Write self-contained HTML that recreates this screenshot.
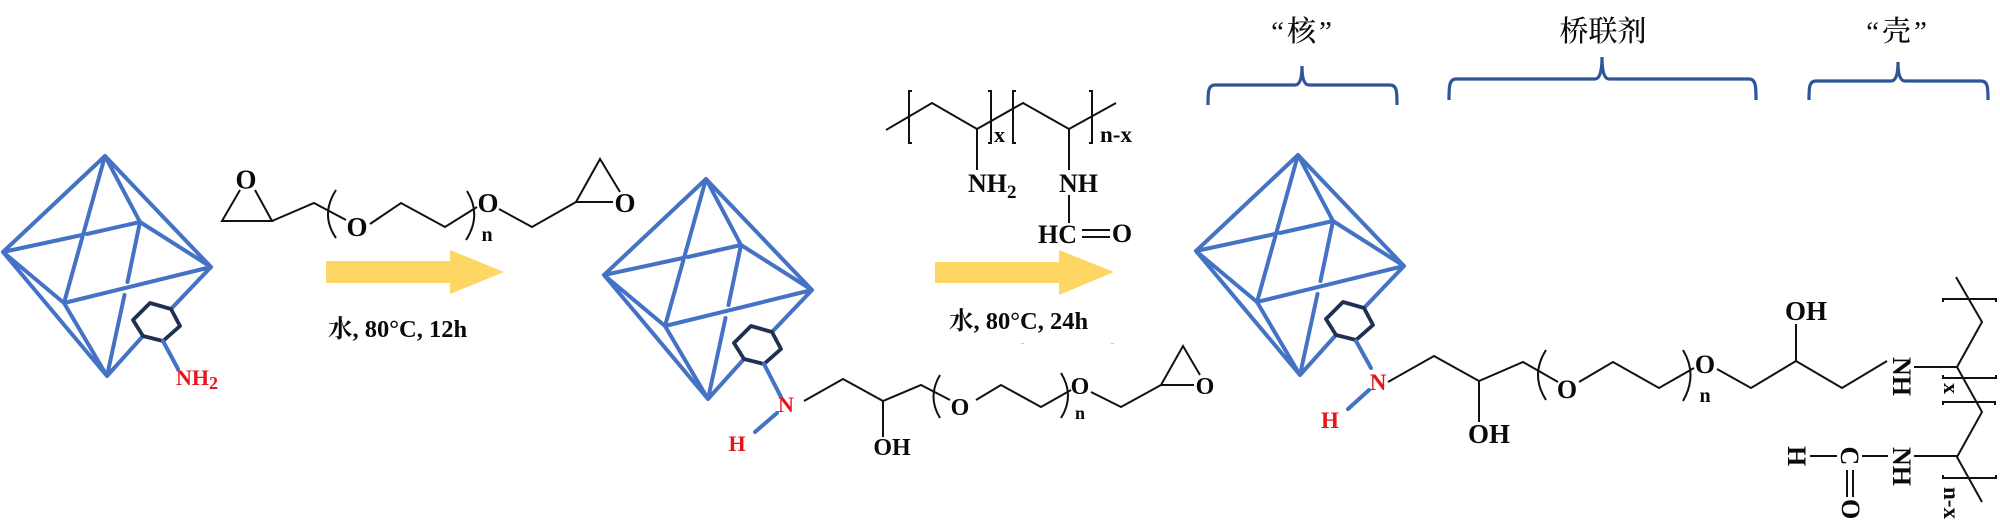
<!DOCTYPE html>
<html lang="zh">
<head>
<meta charset="utf-8">
<title>Core-shell synthesis scheme</title>
<style>
html,body{margin:0;padding:0;background:#fff;width:2000px;height:524px;overflow:hidden}
svg{display:block;filter:blur(.35px)}
.b{font-family:"Liberation Serif","Noto Serif CJK SC",serif;font-weight:bold;fill:#0a0a0a}
.m{text-anchor:middle}
.r{fill:#e8141c}
.c{font-family:"Liberation Serif","Noto Serif CJK SC",serif;font-size:29px;font-weight:500;fill:#0a0a0a;text-anchor:middle}
.z{font-family:"Noto Serif CJK SC",serif;font-weight:700}
.k{fill:none;stroke:#111;stroke-width:2;stroke-linejoin:miter}
.s{fill:none;stroke:#2f5597;stroke-width:3.2}
.o{fill:none;stroke:#4472c4;stroke-width:4;stroke-linecap:round}
.h{fill:none;stroke:#1f3050;stroke-width:3.8;stroke-linejoin:round}
</style>
</head>
<body>
<svg xmlns="http://www.w3.org/2000/svg" width="2000" height="524" viewBox="0 0 2000 524">
<rect width="2000" height="524" fill="#fff"/>
<defs>
<g id="oct">
<path class="o" d="M105 156L3 252M105 156L64 303M105 156L140 222M105 156L211 267M3 252L82 235M87 234L140 222M3 252L64 303M3 252L107 376M64 303L107 376M64 303L211 267M140 222L211 267M140 222L127.500 282M124.500 295L107 376M211 267L171 309M107 376L143 336"/>
<path class="h" d="M150 303L171 309L180 326L163 341L143 336L133 320Z"/>
</g>
</defs>

<!-- Octahedron 1 -->
<use href="#oct"/>
<path class="o" d="M163 341L178 369"/>
<text class="b r" x="176" y="385" font-size="22">NH<tspan font-size="18" dy="4">2</tspan></text>

<!-- PEG diepoxide -->
<path class="k" d="M240 190L222 221H272L255 190M272 221L314 203L346 220M370 224L401 203L445 227L477 207M499 209L532 227L576 202H613M576 202L600 159L620 192"/>
<path class="k" d="M336 190Q320 215 336 238M467 191Q482 215 466 240"/>
<text class="b m" x="246" y="188.500" font-size="27">O</text>
<text class="b m" x="357" y="236" font-size="27">O</text>
<text class="b m" x="488" y="212" font-size="27">O</text>
<text class="b m" x="625" y="212" font-size="27">O</text>
<text class="b m" x="487" y="241" font-size="20">n</text>

<!-- Arrow 1 -->
<path fill="#fdd663" d="M326 261H450V250L504 272L450 294V283H326Z"/>
<text class="b" x="328" y="337" font-size="24.500"><tspan class="z">水</tspan>, 80°C, 12h</text>

<!-- Octahedron 2 -->
<use href="#oct" transform="translate(601,23)"/>
<path class="o" d="M764 364L781 397M777 413L755 432"/>
<text class="b m r" x="786" y="412" font-size="22">N</text>
<text class="b m r" x="737" y="451" font-size="22">H</text>
<path class="k" d="M804 401L843 379L883 401L921 385L950 400M976 400L1001 385L1041 407L1071 390M1091 392L1121 407L1161 385H1194M1161 385L1183 346L1200 375M883 401V437"/>
<path class="k" d="M940 375Q927 397 940 418M1061 373Q1075 396 1061 418"/>
<text class="b m" x="960" y="415" font-size="24">O</text>
<text class="b m" x="1080" y="394" font-size="24">O</text>
<text class="b m" x="1205" y="394" font-size="24">O</text>
<text class="b m" x="1080" y="419" font-size="18">n</text>
<text class="b m" x="892" y="455" font-size="24">OH</text>

<!-- Polymer reagent -->
<path class="k" d="M886 130L932 103L977 129L1023 103L1069 129L1116 103M977 129V170M1069 129V170M1069 195V223M1082 230H1110M1082 237H1110"/>
<path class="k" d="M912 91H909V143H912M988 91H991V143H988M1016 91H1013V143H1016M1089 91H1092V143H1089"/>
<text class="b" x="994" y="142" font-size="22">x</text>
<text class="b" x="1100" y="142" font-size="23">n-x</text>
<text class="b" x="968" y="192" font-size="26">NH<tspan font-size="19" dy="6">2</tspan></text>
<text class="b" x="1059" y="192" font-size="26">NH</text>
<text class="b" x="1038" y="243" font-size="26">HC</text>
<text class="b m" x="1122" y="242" font-size="26">O</text>

<!-- Arrow 2 -->
<path fill="#fdd663" d="M935 262H1059V250L1114 272L1059 295V283H935Z"/>
<text class="b" x="949" y="329" font-size="24.500"><tspan class="z">水</tspan>, 80°C, 24h</text>
<path fill="#c8c8c8" d="M1021 343h3v1h-3zM1111 343h3v1h-3z"/>

<!-- Octahedron 3 -->
<use href="#oct" transform="translate(1193,-1)"/>
<path class="o" d="M1356 341L1371 368M1369 390L1348 409"/>
<text class="b m r" x="1378" y="390" font-size="23">N</text>
<text class="b m r" x="1330" y="428" font-size="23">H</text>
<path class="k" d="M1388 382L1434 356L1479 381L1523 362L1558 382M1579 382L1613 362L1659 388L1694 368M1717 369L1751 388L1796 361L1842 388L1887 361M1479 381V422M1796 361V324"/>
<path class="k" d="M1546 350Q1530 375 1546 400M1683 350Q1698 375 1683 401"/>
<text class="b m" x="1567" y="398" font-size="26">O</text>
<text class="b m" x="1705" y="373" font-size="26">O</text>
<text class="b m" x="1705" y="402" font-size="20">n</text>
<text class="b" x="1468" y="443" font-size="27">OH</text>
<text class="b" x="1785" y="320" font-size="27">OH</text>

<!-- Rotated polymer shell -->
<path class="k" d="M1914 367H1957L1982 322L1956 277M1957 367L1982 412L1957 457L1982 502M1914 456H1957M1862 456H1888M1810 456H1837M1847 470V497M1853 470V497"/>
<path class="k" d="M1943 302V299H1996V302M1943 375V378H1996V375M1943 405V402H1995V405M1943 475V478H1996V475"/>
<text class="b" transform="translate(1893,357) rotate(90)" font-size="26">NH</text>
<text class="b" transform="translate(1893,447) rotate(90)" font-size="26">NH</text>
<text class="b" transform="translate(1841,446.500) rotate(90)" font-size="26">C</text>
<text class="b" transform="translate(1788,446) rotate(90)" font-size="26">H</text>
<text class="b" transform="translate(1842,499) rotate(90)" font-size="26">O</text>
<text class="b" transform="translate(1944,383) rotate(90)" font-size="22">x</text>
<text class="b" transform="translate(1944,487) rotate(90)" font-size="23">n-x</text>

<!-- Braces -->
<path class="s" d="M1208 105C1208 92 1208 85 1215 85H1295Q1302 85 1302 66Q1302 85 1309 85H1390C1397 85 1397 92 1397 105"/>
<path class="s" d="M1449 100C1449 87 1449 79 1456 79H1595Q1602 79 1602 57Q1602 79 1609 79H1749C1756 79 1756 87 1756 100"/>
<path class="s" d="M1809 100C1809 88 1809 81 1816 81H1891Q1898 81 1898 62Q1898 81 1905 81H1981C1988 81 1988 88 1988 100"/>

<!-- Titles -->
<text class="c" x="1303" y="41" letter-spacing="3">“核”</text>
<text class="c" x="1603" y="41">桥联剂</text>
<text class="c" x="1898" y="41" letter-spacing="3">“壳”</text>
</svg>
</body>
</html>
